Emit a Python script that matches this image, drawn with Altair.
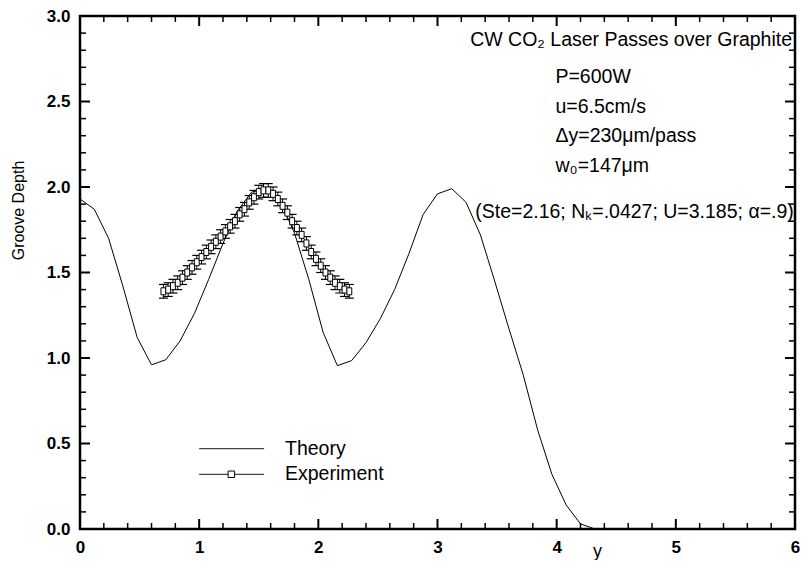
import altair as alt
import pandas as pd

FONT = "Liberation Sans"
W, H = 715, 513

# ---- Theory curve (y position, groove depth) ----
theory_x = [0.00, 0.12, 0.24, 0.36, 0.48, 0.60, 0.72, 0.84, 0.96, 1.08, 1.20, 1.32,
            1.44, 1.56, 1.68, 1.80, 1.92, 2.04, 2.16, 2.28, 2.40, 2.52, 2.64, 2.76,
            2.88, 3.00, 3.12, 3.24, 3.36, 3.48, 3.60, 3.72, 3.84, 3.96, 4.08, 4.20, 4.32]
theory_y = [1.93, 1.87, 1.70, 1.42, 1.12, 0.96, 0.99, 1.10, 1.26, 1.46, 1.67, 1.86,
            1.97, 1.99, 1.92, 1.73, 1.46, 1.15, 0.955, 0.985, 1.09, 1.23, 1.40, 1.61,
            1.84, 1.96, 1.99, 1.91, 1.72, 1.45, 1.17, 0.90, 0.58, 0.32, 0.14, 0.03, 0.00]

# ---- Experiment ----
exp_x = [0.70, 0.74, 0.78, 0.82, 0.86, 0.90, 0.94, 0.98, 1.02, 1.06, 1.10, 1.14, 1.18,
         1.22, 1.26, 1.30, 1.34, 1.38, 1.42, 1.46, 1.50, 1.54, 1.58, 1.62, 1.66, 1.70,
         1.74, 1.78, 1.82, 1.86, 1.90, 1.94, 1.98, 2.02, 2.06, 2.10, 2.14, 2.18, 2.22, 2.26]
exp_y = [1.39, 1.40, 1.42, 1.44, 1.47, 1.50, 1.53, 1.56, 1.59, 1.62, 1.65, 1.68, 1.71,
         1.74, 1.77, 1.80, 1.84, 1.87, 1.91, 1.94, 1.97, 1.98, 1.98, 1.96, 1.93, 1.89,
         1.85, 1.80, 1.76, 1.72, 1.67, 1.62, 1.58, 1.54, 1.50, 1.47, 1.44, 1.42, 1.40, 1.39]
exp_err = 0.04

# ---- axis ticks ----
x_labels = [0, 1, 2, 3, 4, 5, 6]
x_major = [1, 2, 3, 4, 5]
x_minor = [0.2, 0.4, 0.6, 0.8, 1.2, 1.4, 1.6, 1.8, 2.2, 2.4, 2.6, 2.8,
           3.2, 3.4, 3.6, 3.8, 4.2, 4.4, 4.6, 4.8, 5.2, 5.4, 5.6, 5.8]
y_labels = [0.0, 0.5, 1.0, 1.5, 2.0, 2.5, 3.0]
y_major = [0.5, 1.0, 1.5, 2.0, 2.5]
y_minor = [0.1, 0.2, 0.3, 0.4, 0.6, 0.7, 0.8, 0.9, 1.1, 1.2, 1.3, 1.4,
           1.6, 1.7, 1.8, 1.9, 2.1, 2.2, 2.3, 2.4, 2.6, 2.7, 2.8, 2.9]

# ---- annotations ----
title_text = "CW CO\u2082 Laser Passes over Graphite"
param_lines = ["P=600W", "u=6.5cm/s", "\u0394y=230\u03bcm/pass", "w\u2080=147\u03bcm"]
param_ypos = [2.645, 2.47, 2.30, 2.125]
param_text = "(Ste=2.16; N\u2096=.0427; U=3.185; \u03b1=.9)"

legend_labels = ["Theory", "Experiment"]
legend_ypos = [0.47, 0.32]

xs = alt.Scale(domain=[0, 6], nice=False, zero=False)
ys = alt.Scale(domain=[0, 3], nice=False, zero=False)

X_AXIS = alt.Axis(values=x_labels, format="d", title="y", ticks=False, domain=False,
                  grid=False, labelFontWeight="bold", labelFontSize=17, labelPadding=10,
                  labelFlush=False, titleX=517, titleY=27, titleBaseline="alphabetic",
                  titleFontWeight="normal", titleFontSize=18)
Y_AXIS = alt.Axis(values=y_labels, format=".1f", title="Groove Depth", ticks=False,
                  domain=False, grid=False, labelFontWeight="bold", labelFontSize=17,
                  labelPadding=10, labelFlush=False, titleX=-62, titleY=194,
                  titleAngle=270, titleAlign="center", titleBaseline="middle",
                  titleFontWeight="normal", titleFontSize=16)


def X(field="x"):
    return alt.X(f"{field}:Q", scale=xs, axis=X_AXIS)


def Y(field="y"):
    return alt.Y(f"{field}:Q", scale=ys, axis=Y_AXIS)


theory_df = pd.DataFrame({"x": theory_x, "y": theory_y})
exp_df = pd.DataFrame({"x": exp_x, "y": exp_y})
exp_df["lo"] = exp_df["y"] - exp_err
exp_df["hi"] = exp_df["y"] + exp_err

RECT = "M-0.7,-1L0.7,-1L0.7,1L-0.7,1Z"

theory = alt.Chart(theory_df).mark_line(color="black", strokeWidth=1).encode(x=X(), y=Y())

exp_line = alt.Chart(exp_df).mark_line(color="#333", strokeWidth=1).encode(x=X(), y=Y())
exp_bar = alt.Chart(exp_df).mark_rule(color="black", strokeWidth=1).encode(
    x=X(), y=Y("lo"), y2="hi:Q")
exp_cap_lo = alt.Chart(exp_df).mark_tick(orient="horizontal", size=9, thickness=1.2,
                                         color="black", opacity=1).encode(x=X(), y=Y("lo"))
exp_cap_hi = alt.Chart(exp_df).mark_tick(orient="horizontal", size=9, thickness=1.2,
                                         color="black", opacity=1).encode(x=X(), y=Y("hi"))
exp_pts = alt.Chart(exp_df).mark_point(shape=RECT, size=49, filled=True, fill="white",
                                       stroke="black", strokeWidth=1, opacity=1).encode(
    x=X(), y=Y())

# inward ticks on all four sides
xmaj_df = pd.DataFrame({"x": x_major})
xmin_df = pd.DataFrame({"x": x_minor})
ymaj_df = pd.DataFrame({"y": y_major})
ymin_df = pd.DataFrame({"y": y_minor})


def xticks(df, length, sw):
    b = alt.Chart(df).mark_rule(color="black", strokeWidth=sw).encode(
        x=X(), y=alt.value(H), y2=alt.value(H - length))
    t = alt.Chart(df).mark_rule(color="black", strokeWidth=sw).encode(
        x=X(), y=alt.value(0), y2=alt.value(length))
    return [b, t]


def yticks(df, length, sw):
    l = alt.Chart(df).mark_rule(color="black", strokeWidth=sw).encode(
        y=Y(), x=alt.value(0), x2=alt.value(length))
    r = alt.Chart(df).mark_rule(color="black", strokeWidth=sw).encode(
        y=Y(), x=alt.value(W), x2=alt.value(W - length))
    return [l, r]


tick_layers = (xticks(xmaj_df, 10, 2) + xticks(xmin_df, 6, 1.5)
               + yticks(ymaj_df, 10, 2) + yticks(ymin_df, 6, 1.5))

# annotations
ann_title = alt.Chart(pd.DataFrame({"x": [5.975], "y": [2.86], "t": [title_text]})).mark_text(
    align="right", baseline="middle", font=FONT, fontSize=19.5, color="black").encode(
    x=X(), y=Y(), text="t:N")
ann_params = alt.Chart(pd.DataFrame({"x": [3.99] * len(param_lines), "y": param_ypos,
                                     "t": param_lines})).mark_text(
    align="left", baseline="middle", font=FONT, fontSize=19.5, color="black").encode(
    x=X(), y=Y(), text="t:N")
ann_ste = alt.Chart(pd.DataFrame({"x": [5.99], "y": [1.855], "t": [param_text]})).mark_text(
    align="right", baseline="middle", font=FONT, fontSize=19.5, color="black").encode(
    x=X(), y=Y(), text="t:N")

# legend
leg_th = alt.Chart(pd.DataFrame({"x": [1.0, 1.545], "y": [legend_ypos[0]] * 2})).mark_line(
    color="#444", strokeWidth=1.2).encode(x=X(), y=Y())
leg_ex = alt.Chart(pd.DataFrame({"x": [1.0, 1.545], "y": [legend_ypos[1]] * 2})).mark_line(
    color="#444", strokeWidth=1.2).encode(x=X(), y=Y())
leg_sq = alt.Chart(pd.DataFrame({"x": [1.27], "y": [legend_ypos[1]]})).mark_point(
    shape="square", size=42, filled=True, fill="white", stroke="black", strokeWidth=1,
    opacity=1).encode(x=X(), y=Y())
leg_txt = alt.Chart(pd.DataFrame({"x": [1.72, 1.72], "y": legend_ypos, "t": legend_labels})).mark_text(
    align="left", baseline="middle", font=FONT, fontSize=19.5, color="black").encode(
    x=X(), y=Y(), text="t:N")

chart = alt.layer(
    theory, exp_line, exp_bar, exp_cap_lo, exp_cap_hi, exp_pts,
    *tick_layers, ann_title, ann_params, ann_ste,
    leg_th, leg_ex, leg_sq, leg_txt
).properties(
    width=W, height=H,
    autosize=alt.AutoSizeParams(type="none"),
    padding={"left": 72, "top": 8, "right": 5, "bottom": 31},
    background="white",
).configure_view(
    stroke="black", strokeWidth=2.5
).configure_axis(
    labelFont=FONT, titleFont=FONT, labelColor="black", titleColor="black"
)

chart.save("out.html", embed_options={"renderer": "svg", "actions": False})
